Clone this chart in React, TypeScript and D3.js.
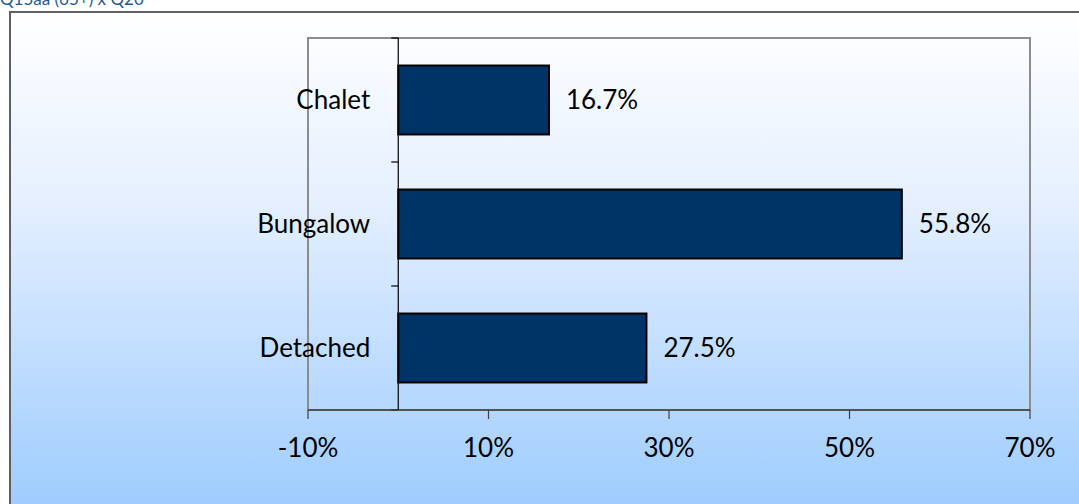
import React from "react";
import * as d3 from "d3";

const categories = ["Chalet", "Bungalow", "Detached"];
const values = [16.7, 55.8, 27.5];
const tickValues = [-10, 10, 30, 50, 70];
const title = "Q15aa (65+) x Q20";

const W = 1079;
const H = 504;
const FONT = "Lato, 'Open Sans', sans-serif";
const FS = 26;

export default function App() {
  const plot = { left: 308, top: 38, right: 1030, bottom: 410 };
  const x = d3.scaleLinear().domain([-10, 70]).range([plot.left, plot.right]);
  const y = d3
    .scaleBand<string>()
    .domain(categories)
    .range([plot.top, plot.bottom])
    .paddingInner(0.444)
    .paddingOuter(0.222);
  const x0 = x(0);
  const step = (plot.bottom - plot.top) / categories.length;
  const boundaries = d3.range(categories.length + 1).map((i) => plot.top + i * step);

  return (
    <svg
      width={W}
      height={H}
      style={{ position: "absolute", left: 0, top: 0, display: "block" }}
    >
      <defs>
        <linearGradient id="bg" x1="0" y1="0" x2="0" y2="1">
          <stop offset="0" stopColor="#FFFFFF" />
          <stop offset="0.35" stopColor="#E6F0FF" />
          <stop offset="1" stopColor="#97C9FD" />
        </linearGradient>
      </defs>
      <rect x={0} y={0} width={W} height={H} fill="#FFFFFF" />
      <text x={0} y={5} fontFamily={FONT} fontSize={17} fill="#1F5A96">
        {title}
      </text>
      <rect x={10} y={12} width={W + 20} height={H + 20} fill="url(#bg)" stroke="#5E5E66" strokeWidth={2} />
      {/* plot area */}
      <rect
        x={plot.left}
        y={plot.top}
        width={plot.right - plot.left}
        height={plot.bottom - plot.top}
        fill="none"
        stroke="#8C8C8C"
        strokeWidth={2}
      />
      {/* bars */}
      {categories.map((c, i) => {
        const v = values[i];
        const by = y(c)!;
        return (
          <g key={c}>
            <rect
              x={Math.min(x0, x(v))}
              y={by}
              width={Math.abs(x(v) - x0)}
              height={y.bandwidth()}
              fill="#003366"
              stroke="#000000"
              strokeWidth={2}
            />
            <text
              x={x(v) + 17}
              y={by + y.bandwidth() / 2}
              dy="0.35em"
              fontFamily={FONT}
              fontSize={FS}
              fill="#000"
            >
              {v.toFixed(1) + "%"}
            </text>
            <text
              x={x0 - 28}
              y={by + y.bandwidth() / 2}
              dy="0.35em"
              textAnchor="end"
              fontFamily={FONT}
              fontSize={FS}
              fill="#000"
            >
              {c}
            </text>
          </g>
        );
      })}
      {/* vertical axis at 0 */}
      <line x1={x0} x2={x0} y1={plot.top} y2={plot.bottom} stroke="#000" strokeWidth={1.2} />
      {boundaries.map((b, i) => (
        <line key={i} x1={x0 - 7} x2={x0} y1={b} y2={b} stroke="#000" strokeWidth={1.2} />
      ))}
      {/* horizontal axis */}
      <line x1={plot.left} x2={plot.right} y1={plot.bottom} y2={plot.bottom} stroke="#404040" strokeWidth={1.5} />
      {tickValues.map((t) => (
        <g key={t}>
          <line x1={x(t)} x2={x(t)} y1={plot.bottom} y2={plot.bottom + 9} stroke="#404040" strokeWidth={1.2} />
          <text
            x={x(t)}
            y={448}
            dy="0.35em"
            textAnchor="middle"
            fontFamily={FONT}
            fontSize={FS}
            fill="#000"
          >
            {t + "%"}
          </text>
        </g>
      ))}
    </svg>
  );
}
